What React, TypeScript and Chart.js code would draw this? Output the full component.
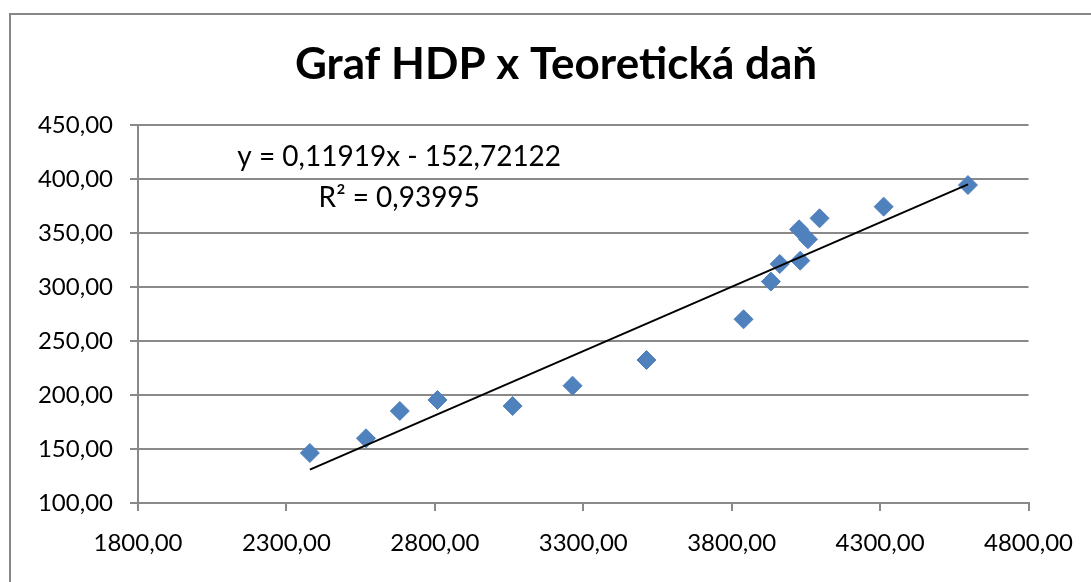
import React, { useEffect, useRef } from 'react';
import { Chart, registerables } from 'chart.js';

Chart.register(...registerables);

// HDP (x) values of the observations
const hdp = [2379, 2568, 2682, 2809, 3062, 3264, 3513, 3840, 3932, 3962, 4031, 4027, 4057, 4096, 4312, 4596];
// Teoretická daň (y) values of the observations
const dan = [146.3, 159.9, 185.2, 195.4, 189.8, 208.6, 232.4, 270.1, 305.0, 321.3, 324.4, 353.4, 344.2, 363.6, 374.4, 394.4];

// Linear trend line reported in the chart
const trendSlope = 0.11919;
const trendIntercept = -152.72122;

const titleText = 'Graf HDP x Teoretická daň';
const equationLines = ['y = 0,11919x - 152,72122', 'R² = 0,93995'];
// anchor of the equation label in data units (x centre, baselines)
const equationAnchorX = 2680;
const equationBaselinesY = [411.6, 374.1];

const xMin = 1800;
const xMax = 4800;
const xStep = 500;
const yMin = 100;
const yMax = 450;
const yStep = 50;

const FONT = 'Lato, "Open Sans", sans-serif';
const GRID = '#898989';

export default function App() {
  const ref = useRef<HTMLCanvasElement>(null);

  useEffect(() => {
    document.body.style.margin = '0';
    const canvas = ref.current;
    if (!canvas) return;

    const fmt = (v: number | string) => Number(v).toFixed(2).replace('.', ',');
    const xs = Math.min(...hdp);
    const xe = Math.max(...hdp);
    const trend = [
      { x: xs, y: trendSlope * xs + trendIntercept },
      { x: xe, y: trendSlope * xe + trendIntercept },
    ];
    const points = hdp.map((x, i) => ({ x, y: dan[i] }));

    const framePlugin = {
      id: 'frame',
      beforeDraw(chart: any) {
        const ctx = chart.ctx;
        ctx.save();
        ctx.fillStyle = '#ffffff';
        ctx.fillRect(0, 0, chart.width, chart.height);
        ctx.strokeStyle = '#878787';
        ctx.lineWidth = 2;
        ctx.strokeRect(10, 14, chart.width + 50, chart.height + 50);
        ctx.restore();
      },
    };

    const textPlugin = {
      id: 'texts',
      afterDraw(chart: any) {
        const ctx = chart.ctx;
        const xs2 = chart.scales.x;
        const ys2 = chart.scales.y;
        ctx.save();
        ctx.fillStyle = '#000000';
        ctx.textAlign = 'center';
        ctx.textBaseline = 'alphabetic';
        ctx.font = `bold 44px ${FONT}`;
        ctx.fillText(titleText, 556, 79);
        ctx.font = `28px ${FONT}`;
        const cx = xs2.getPixelForValue(equationAnchorX);
        equationLines.forEach((line, i) => {
          ctx.fillText(line, cx, ys2.getPixelForValue(equationBaselinesY[i]));
        });
        ctx.restore();
      },
    };

    const chart = new Chart(canvas, {
      type: 'scatter',
      data: {
        datasets: [
          {
            label: 'Trend',
            data: trend,
            showLine: true,
            borderColor: '#000000',
            borderWidth: 2,
            pointRadius: 0,
            order: 0,
          },
          {
            label: 'Teoretická daň',
            data: points,
            pointStyle: 'rectRot',
            pointRadius: 9.5,
            backgroundColor: '#4F81BD',
            borderColor: '#4F81BD',
            borderWidth: 1,
            order: 1,
          },
        ],
      },
      options: {
        animation: false,
        responsive: false,
        layout: { padding: { left: 0, right: 62, top: 125, bottom: 0 } },
        plugins: {
          legend: { display: false },
          tooltip: { enabled: false },
          title: { display: false },
        },
        scales: {
          x: {
            type: 'linear',
            min: xMin,
            max: xMax,
            ticks: {
              stepSize: xStep,
              callback: (v: any) => fmt(v),
              font: { family: FONT, size: 24 },
              color: '#000000',
              padding: 18,
              maxRotation: 0,
              autoSkip: false,
            },
            grid: {
              display: true,
              drawOnChartArea: false,
              drawTicks: true,
              tickLength: 8,
              color: GRID,
              lineWidth: 2,
            },
            border: { display: true, color: GRID, width: 2 },
            afterFit(scale: any) {
              scale.height = 79;
            },
          },
          y: {
            type: 'linear',
            min: yMin,
            max: yMax,
            ticks: {
              stepSize: yStep,
              callback: (v: any) => fmt(v),
              font: { family: FONT, size: 24 },
              color: '#000000',
              padding: 17,
            },
            grid: {
              display: true,
              drawOnChartArea: true,
              drawTicks: true,
              tickLength: 8,
              color: GRID,
              lineWidth: 2,
            },
            border: { display: true, color: GRID, width: 2 },
            afterFit(scale: any) {
              scale.width = 138;
            },
          },
        },
      },
      plugins: [framePlugin, textPlugin],
    });

    return () => chart.destroy();
  }, []);

  return <canvas ref={ref} width={1091} height={582} style={{ display: 'block' }} />;
}
